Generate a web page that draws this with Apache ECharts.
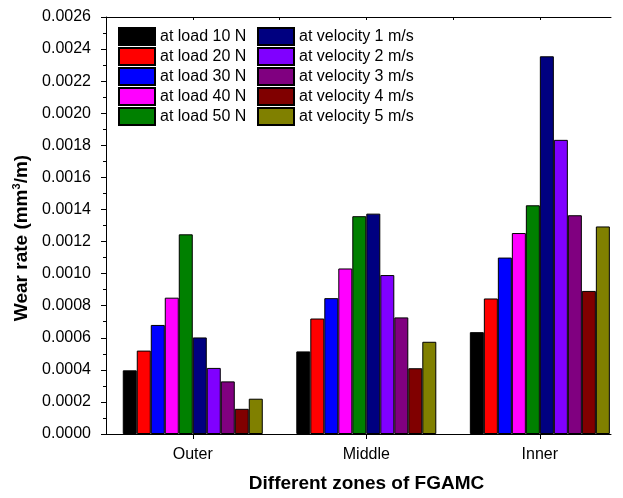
<!DOCTYPE html>
<html>
<head>
<meta charset="utf-8">
<script src="https://cdn.jsdelivr.net/npm/echarts@6/dist/echarts.min.js"></script>
<style>
  html, body { margin: 0; padding: 0; background: #fff; }
  #main { width: 623px; height: 498px; }
</style>
</head>
<body>
<div id="main"></div>
<script>
// zone positions on the x axis: Outer, Middle, Inner
var zones = ['Outer', 'Middle', 'Inner'];
var zonePos = [1, 2, 3];

var names = ['at load 10 N', 'at load 20 N', 'at load 30 N', 'at load 40 N', 'at load 50 N',
  'at velocity 1 m/s', 'at velocity 2 m/s', 'at velocity 3 m/s', 'at velocity 4 m/s', 'at velocity 5 m/s'];
var colors = ['#000000', '#ff0000', '#0000ff', '#ff00ff', '#008000',
  '#000080', '#8000ff', '#800080', '#800000', '#808000'];

// wear rate for Outer, Middle, Inner
var load10 = [0.000397, 0.000515, 0.000635];
var load20 = [0.00052, 0.00072, 0.000845];
var load30 = [0.00068, 0.000847, 0.0011];
var load40 = [0.00085, 0.001032, 0.001253];
var load50 = [0.001245, 0.001358, 0.001426];
var vel1 = [0.000602, 0.001374, 0.002355];
var vel2 = [0.000412, 0.000991, 0.001834];
var vel3 = [0.000328, 0.000727, 0.001364];
var vel4 = [0.000157, 0.00041, 0.000892];
var vel5 = [0.00022, 0.000575, 0.001294];

var allData = [load10, load20, load30, load40, load50, vel1, vel2, vel3, vel4, vel5];

var font = 'Liberation Sans';

var series = allData.map(function (vals, i) {
  return {
    name: names[i],
    type: 'bar',
    barWidth: 14,
    barGap: '0%',
    itemStyle: { color: colors[i], borderColor: '#000', borderWidth: 1 },
    data: vals.map(function (v, j) { return [zonePos[j], v]; })
  };
});

var chart = echarts.init(document.getElementById('main'));
var option = {
  animation: false,
  textStyle: { fontFamily: font },
  grid: { left: 106, right: 12, top: 17, bottom: 62 },
  legend: [
    {
      data: names.slice(0, 5), orient: 'vertical', left: 113, top: 22,
      itemWidth: 36, itemHeight: 17, itemGap: 1, icon: 'rect',
      textStyle: { fontSize: 16, color: '#000', fontFamily: font }
    },
    {
      data: names.slice(5), orient: 'vertical', left: 252, top: 22,
      itemWidth: 36, itemHeight: 17, itemGap: 1, icon: 'rect',
      textStyle: { fontSize: 16, color: '#000', fontFamily: font }
    }
  ],
  xAxis: [
    {
      type: 'value', min: 0.5, max: 3.41, position: 'bottom',
      name: 'Different zones of FGAMC', nameLocation: 'middle', nameGap: 40,
      nameTextStyle: { fontSize: 19, fontWeight: 'bold', color: '#000', padding: [0, 0, 0, 16] },
      splitLine: { show: false },
      axisLine: { lineStyle: { color: '#000', width: 1 } },
      axisTick: { customValues: zonePos, length: 5, lineStyle: { color: '#000' } },
      axisLabel: {
        customValues: zonePos, fontSize: 16, color: '#000', margin: 13,
        formatter: function (v) { return zones[Math.round(v) - 1]; }
      }
    },
    {
      type: 'value', min: 0.5, max: 3.41, position: 'top',
      splitLine: { show: false },
      axisLine: { lineStyle: { color: '#000', width: 1 } },
      axisTick: { inside: true, customValues: [1, 1.5, 2, 2.5, 3], length: 3, lineStyle: { color: '#000' } },
      axisLabel: { show: false }
    }
  ],
  yAxis: {
    type: 'value', min: 0, max: 0.0026, interval: 0.0002,
    name: 'Wear rate (mm{sup|3}/m)', nameLocation: 'middle', nameGap: 67,
    nameTextStyle: {
      fontSize: 19, fontWeight: 'bold', color: '#000', padding: [0, 25, 0, 0],
      rich: { sup: { fontSize: 11, fontWeight: 'bold', color: '#000', padding: [0, 0, 9, 0] } }
    },
    splitLine: { show: false },
    axisLine: { show: true, lineStyle: { color: '#000', width: 1 } },
    axisTick: { show: true, length: 5, lineStyle: { color: '#000' } },
    minorTick: { show: true, splitNumber: 2, length: 3, lineStyle: { color: '#000' } },
    axisLabel: {
      fontSize: 16, color: '#000', margin: 15,
      formatter: function (v) { return v.toFixed(4); }
    }
  },
  series: series
};
chart.setOption(option);
</script>
</body>
</html>
